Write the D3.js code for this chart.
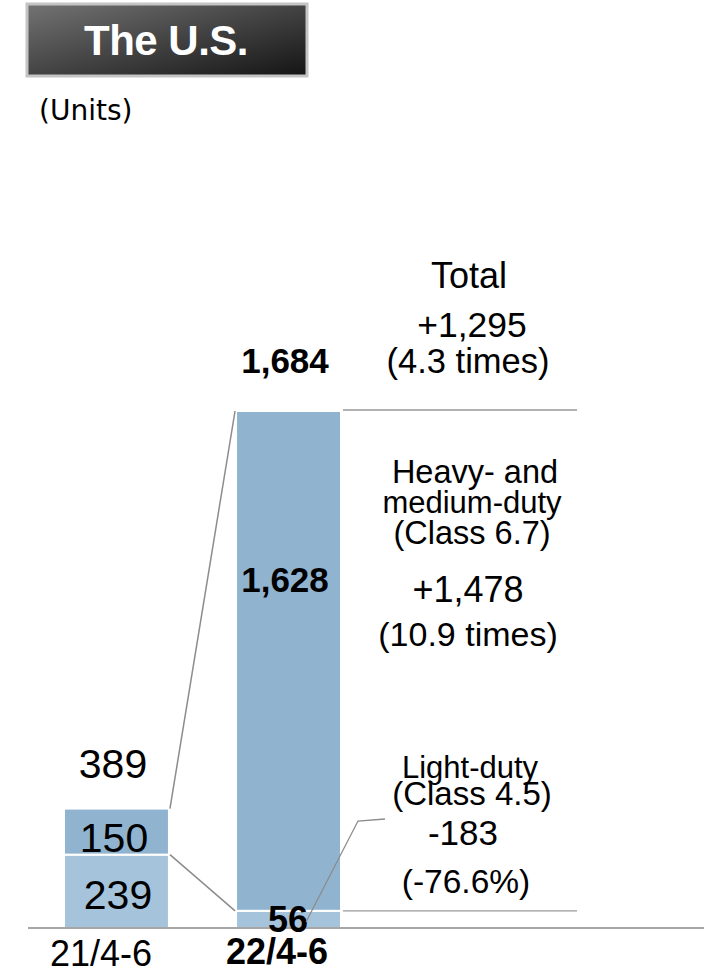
<!DOCTYPE html>
<html>
<head>
<meta charset="utf-8">
<script src="https://cdn.jsdelivr.net/npm/d3@7"></script>
<style>
  body { margin: 0; background: #fff; }
  svg { display: block; font-family: "Liberation Sans", Arial, sans-serif; }
</style>
</head>
<body>
<div class="chart"></div>
<script>
// data
const periods = ["21/4-6", "22/4-6"];
const lightDuty = [239, 56];
const heavyDuty = [150, 1628];
const totals = [389, 1684];

const totalNote = ["Total", "+1,295", "(4.3 times)"];
const heavyNote = ["Heavy- and", "medium-duty", "(Class 6.7)", "+1,478", "(10.9 times)"];
const lightNote = ["Light-duty", "(Class 4.5)", "-183", "(-76.6%)"];

const width = 712, height = 972;
const baseY = 928;

const svg = d3.select(".chart").append("svg")
  .attr("width", width)
  .attr("height", height);

// title box with gradient
const defs = svg.append("defs");
const grad = defs.append("linearGradient")
  .attr("id", "titleGrad")
  .attr("x1", "0%").attr("y1", "0%")
  .attr("x2", "100%").attr("y2", "100%");
grad.append("stop").attr("offset", "0%").attr("stop-color", "#737373");
grad.append("stop").attr("offset", "100%").attr("stop-color", "#141414");

svg.append("rect")
  .attr("x", 27).attr("y", 4)
  .attr("width", 280).attr("height", 72)
  .attr("fill", "url(#titleGrad)")
  .attr("stroke", "#c4c4c4")
  .attr("stroke-width", 3)
svg.append("text")
  .attr("x", 166).attr("y", 55)
  .attr("text-anchor", "middle")
  .attr("fill", "white")
  .attr("font-weight", "bold")
  .attr("font-size", 42)
  .attr("letter-spacing", -0.5)
  .text("The U.S.")

svg.append("text")
  .attr("x", 39).attr("y", 120)
  .attr("font-family", "DejaVu Sans, Verdana, sans-serif")
  .attr("font-size", 28)
  .text("(Units)")

// scales
const x = d3.scaleBand()
  .domain(periods)
  .range([64, 341])
  .paddingInner(0.39)
  .paddingOuter(0)

const y = d3.scaleLinear()
  .domain([0, 1684])
  .range([baseY, 411])

const colLight = "#a6c3dc", colHeavy = "#90b4d0";

const stackData = periods.map((p, i) => ({ p, light: lightDuty[i], heavy: heavyDuty[i] }));
const series = d3.stack().keys(["light", "heavy"])(stackData);

svg.append("g")
  .selectAll("g")
  .data(series)
  .join("g")
  .attr("fill", d => d.key == "light" ? colLight : colHeavy)
  .selectAll("rect")
  .data(d => d)
  .join("rect")
  .attr("x", d => x(d.data.p))
  .attr("y", d => y(d[1]))
  .attr("width", x.bandwidth())
  .attr("height", d => y(d[0]) - y(d[1]))
  .attr("stroke", "white")
  .attr("stroke-width", 2)

// axis baseline
svg.append("line")
  .attr("x1", 28).attr("x2", 704)
  .attr("y1", baseY).attr("y2", baseY)
  .attr("stroke", "#888").attr("stroke-width", 1.5)

const b1 = periods[0], b2 = periods[1];
const gray = "#8c8c8c";

// connector lines between the bars
svg.append("line")
  .attr("x1", x(b1) + x.bandwidth() + 1).attr("y1", y(totals[0]))
  .attr("x2", x(b2) - 1).attr("y2", y(totals[1]))
  .attr("stroke", gray).attr("stroke-width", 1.5)
svg.append("line")
  .attr("x1", x(b1) + x.bandwidth() + 1).attr("y1", y(lightDuty[0]))
  .attr("x2", x(b2) - 1).attr("y2", y(lightDuty[1]))
  .attr("stroke", gray).attr("stroke-width", 1.5)

// horizontal guides to the right
svg.append("line")
  .attr("x1", x(b2) + x.bandwidth() + 2).attr("x2", 577)
  .attr("y1", y(totals[1]) - 1).attr("y2", y(totals[1]) - 1)
  .attr("stroke", "#999").attr("stroke-width", 1.5)
svg.append("line")
  .attr("x1", x(b2) + x.bandwidth() + 2).attr("x2", 577)
  .attr("y1", y(lightDuty[1])).attr("y2", y(lightDuty[1]))
  .attr("stroke", "#999").attr("stroke-width", 1.2)

const fmt = d3.format(",");

function label(xp, yp, txt, size, bold) {
  svg.append("text")
    .attr("x", xp).attr("y", yp)
    .attr("text-anchor", "middle")
    .attr("font-size", size)
    .attr("font-weight", bold ? "bold" : "normal")
    .text(txt)
}

// bar labels
label(113, 778, fmt(totals[0]), 41, false)
label(114, 852, fmt(heavyDuty[0]), 41, false)
label(118, 909, fmt(lightDuty[0]), 41, false)
label(285, 373, fmt(totals[1]), 35, true)
label(285, 592, fmt(heavyDuty[1]), 35, true)
label(288, 932, fmt(lightDuty[1]), 36, true)

// leader line from "56" (drawn over the label like the original)
svg.append("polyline")
  .attr("points", "306,922 358,821 385,819")
  .attr("fill", "none")
  .attr("stroke", gray).attr("stroke-width", 1.3)

// category labels
label(101, 966, periods[0], 36, false)
label(277, 964, periods[1], 36, true)

// annotations
label(469, 288, totalNote[0], 36, false)
label(472, 337, totalNote[1], 35.5, false)
label(468, 373, totalNote[2], 34.5, false)

label(475, 483, heavyNote[0], 32.5, false)
label(472, 513, heavyNote[1], 31, false)
label(472, 544, heavyNote[2], 32.5, false)
label(468, 602, heavyNote[3], 36, false)
label(468, 646, heavyNote[4], 34, false)

label(470, 778, lightNote[0], 31, false)
label(472, 805, lightNote[1], 33, false)
label(463, 845, lightNote[2], 35, false)
label(466, 893, lightNote[3], 33.5, false)
</script>
</body>
</html>
